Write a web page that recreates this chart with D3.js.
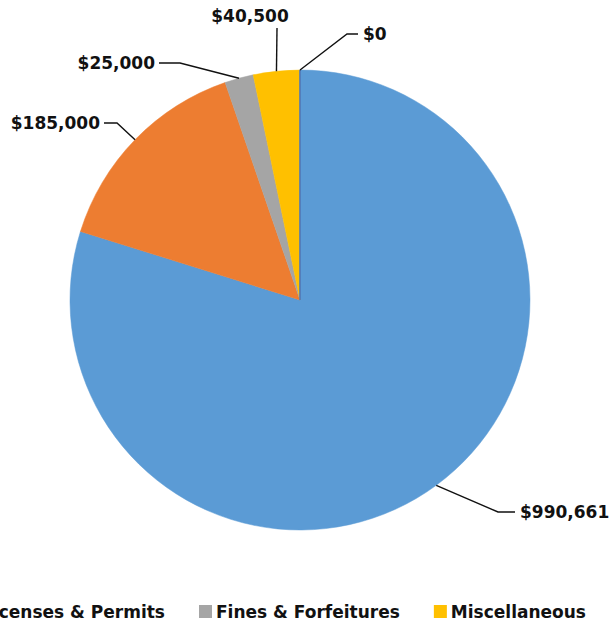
<!DOCTYPE html>
<html>
<head>
<meta charset="utf-8">
<script src="https://cdn.jsdelivr.net/npm/d3@7"></script>
<style>
  body { margin: 0; background: #fff; }
  text { font-family: "DejaVu Sans", sans-serif; font-weight: bold; fill: #111; }
</style>
</head>
<body>
<div class="pieChart"></div>
<script>
/* chart data */
const categories = ["Taxes", "Licenses & Permits", "Fines & Forfeitures", "Miscellaneous", "Interest"];
const amounts = [990661, 185000, 25000, 40500, 0];
const colors = ["#5b9bd5", "#ed7d31", "#a5a5a5", "#ffc000", "#4472c4"];

/* dimensions */
const width = 616, height = 627;
const cx = 300, cy = 300, radius = 230;

const svg = d3.select(".pieChart")
  .append("svg")
  .attr("width", width)
  .attr("height", height);

const g = svg.append("g")
  .attr("transform", `translate(${cx},${cy})`);

const pie = d3.pie().sort(null).value(d => d);
const arcs = pie(amounts);

const arc = d3.arc().innerRadius(0).outerRadius(radius);
const edge = d3.arc().innerRadius(radius).outerRadius(radius);

/* slices */
g.selectAll("path.slice")
  .data(arcs)
  .join("path")
  .attr("class", "slice")
  .attr("d", arc)
  .attr("fill", (d, i) => colors[i])
  .attr("stroke", (d, i) => colors[i])
  .attr("stroke-width", (d, i) => d.value === 0 ? 1.5 : 0.5);

/* label layout: elbow point, end of leader, text anchor (relative to centre) */
const labelPos = [
  {elbow: [198, 212], end: [215, 212], anchor: "start"},
  {elbow: [-183, -177], end: [-196, -177], anchor: "end"},
  {elbow: [-120, -237], end: [-141, -237], anchor: "end"},
  {elbow: [-23, -272], end: [-23, -272], anchor: "middle"},
  {elbow: [47, -266], end: [58, -266], anchor: "start"}
];

const fmt = d3.format("$,");
const fontSize = 17;

g.selectAll("polyline.leader")
  .data(arcs)
  .join("polyline")
  .attr("class", "leader")
  .attr("fill", "none")
  .attr("stroke", "#111")
  .attr("stroke-width", 1.4)
  .attr("points", (d, i) => {
    const p = edge.centroid(d);
    return [p, labelPos[i].elbow, labelPos[i].end].map(q => q.join(",")).join(" ");
  });

g.selectAll("text.value")
  .data(arcs)
  .join("text")
  .attr("class", "value")
  .attr("font-size", fontSize)
  .attr("text-anchor", (d, i) => labelPos[i].anchor)
  .attr("x", (d, i) => {
    const l = labelPos[i];
    if (l.anchor === "start") return l.end[0] + 5;
    if (l.anchor === "end") return l.end[0] - 4;
    return l.end[0] - 27;
  })
  .attr("y", (d, i) => labelPos[i].anchor === "middle" ? labelPos[i].end[1] - 6 : labelPos[i].end[1] + 6)
  .text(d => fmt(d.value));

/* legend */
const legend = svg.append("g").attr("class", "legend");
const items = legend.selectAll("g")
  .data(categories)
  .join("g");

items.append("rect")
  .attr("width", 13)
  .attr("height", 13)
  .attr("y", -13)
  .attr("fill", (d, i) => colors[i]);

items.append("text")
  .attr("x", 17)
  .attr("font-size", fontSize)
  .text(d => d);

/* lay items out in a row, the last one wraps to a second row below */
let xPos = 0;
const offsets = [];
items.each(function(d, i) {
  offsets.push(xPos);
  const w = d3.select(this).select("text").node().getComputedTextLength();
  xPos += 17 + w + 34;
});
const shift = 199 - offsets[2];
items.attr("transform", (d, i) => i < 4
  ? `translate(${offsets[i] + shift},618)`
  : `translate(${offsets[2] + shift},${618 + 40})`);
</script>
</body>
</html>
